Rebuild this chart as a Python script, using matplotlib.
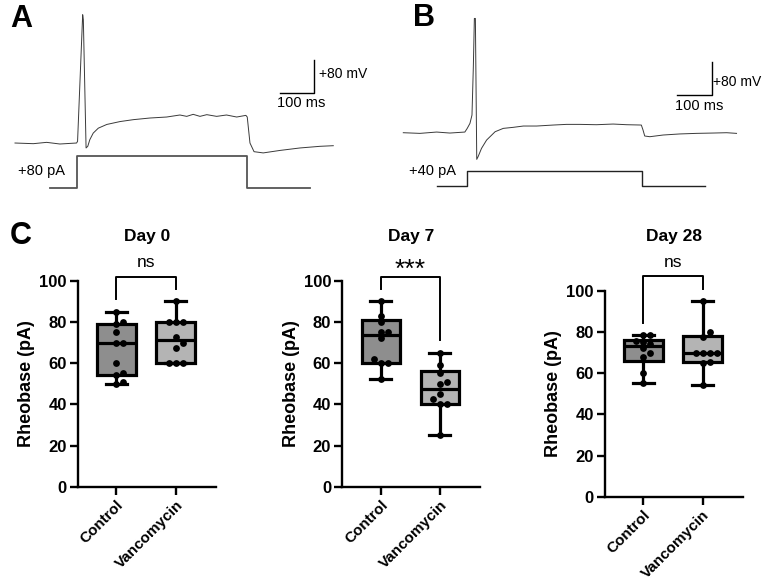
import numpy as np
import matplotlib.pyplot as plt

plt.rcParams['font.family'] = ['Liberation Sans', 'DejaVu Sans']

W, H = 764, 583

# ---- panel A: membrane potential (ms, mV) and injected current (ms, pA)
a_time = [0, 54, 93, 132, 181, 184, 199, 201, 209, 214, 220, 230, 245, 270, 309, 348,
          397, 446, 485, 505, 524, 544, 564, 593, 622, 652, 679, 683, 691, 703, 730,
          779, 838, 897, 936]
a_volt = [-65, -66.6, -63.4, -67.4, -65, -61, 246, 234, -77, -73, -57, -41, -29, -20,
          -13, -8.4, -4.4, -2, 2.9, -0.4, 4.5, -0.4, 3.7, -0.4, 2.9, -2, 2, -2, -65,
          -86, -89, -83, -77, -73, -71.5]
a_step_time = [103, 182, 681, 867]
a_step_amp = [0, 80, 0, 0]

# ---- panel B
b_time = [0, 49, 98, 137, 181, 188, 196, 202, 206, 209, 212, 216, 220, 230, 245, 270,
          294, 323, 353, 392, 441, 480, 519, 568, 617, 657, 700, 705, 710, 725, 764,
          813, 862, 911, 951, 980]
b_volt = [-65, -66.6, -63.4, -65.8, -63.4, -54.5, -42.4, -22.2, 95, 212, 212, -129.6,
          -123, -103, -82.8, -62.6, -54.5, -52, -48.8, -48.8, -46.4, -44.8, -44.8,
          -45.6, -44, -45.6, -46.4, -58.5, -73, -74.7, -70.6, -68, -66.6, -65.8, -65,
          -66.6]
b_step_time = [98, 186, 701, 887]
b_step_amp = [0, 40, 0, 0]

# ---- panel C: rheobase (pA)
groups = ['Control', 'Vancomycin']
days = ['Day 0', 'Day 7', 'Day 28']
day0_control = [50, 51, 54, 55, 60, 70, 70, 75, 79, 80, 85]
day0_vanco = [60, 60, 60, 67.5, 70, 72.5, 80, 80, 80, 90]
day7_control = [52.5, 60, 60, 62, 72, 75, 75, 80, 83, 90]
day7_vanco = [25, 40, 40, 42.5, 45, 50, 51, 55, 59, 65]
day28_control = [55, 60, 68, 70, 72, 74, 75, 75.5, 78.5, 78.5]
day28_vanco = [54, 65, 65.5, 70, 70, 70, 70, 77.5, 80, 95]
significance = ['ns', '***', 'ns']


def px_axes(fig, x0, y0, x1, y1):
    return fig.add_axes([x0 / W, 1 - y1 / H, (x1 - x0) / W, (y1 - y0) / H])


def swarm_x(values, center, px_x, px_y, d=6.0, step=7.0):
    placed = []
    order = np.argsort(values, kind='stable')
    out = np.zeros(len(values))
    for i in order:
        y = values[i] * px_y
        for k in range(0, 12):
            c = 0 if k == 0 else ((k + 1) // 2) * step * (1 if k % 2 else -1)
            if all((c - px) ** 2 + (y - py) ** 2 >= d ** 2 for px, py in placed):
                break
        placed.append((c, y))
        out[i] = center + c / px_x
    return out


def box_stats(vals):
    v = np.asarray(vals, float)
    q1, med, q3 = np.percentile(v, [25, 50, 75], method='weibull')
    return dict(med=med, q1=q1, q3=q3, whislo=v.min(), whishi=v.max(), fliers=[])


fig = plt.figure(figsize=(W / 100, H / 100), dpi=100)

# ---------------- traces
trace_font = 10.5
for (vt, vv, st, sa, box_v, box_i, xlim, ylim_v, ylim_i, bar, lbl_mv, lbl_ms, pa_lbl,
     step_col, step_lw) in [
    (a_time, a_volt, a_step_time, a_step_amp, (10, 5, 370, 195), (10, 140, 370, 200),
     (-14.7, 1044), (-191, 269.5), (-30, 120), (779, 879, 56.2), (893, 102), (841, 31),
     ('+80 pA', 79, 42.5), '#555555', 1.3),
    (b_time, b_volt, b_step_time, b_step_amp, (390, 5, 760, 195), (390, 140, 760, 200),
     (-39.1, 1049), (-216, 244.6), (-37.3, 122.7), (804, 907, 26.4), (912, 58.6),
     (870, -0.3), ('+40 pA', 86, 40.8), '#222222', 1.0),
]:
    axv = px_axes(fig, *box_v)
    axv.plot(vt, vv, color='#3a3a3a', lw=0.7)
    x0, x1, yb = bar
    axv.plot([x0, x1, x1], [yb, yb, yb + 80], color='black', lw=1.0)
    axv.text(lbl_mv[0], lbl_mv[1], '+80 mV', fontsize=10, ha='left', va='center')
    axv.text(lbl_ms[0], lbl_ms[1], '100 ms', fontsize=trace_font, ha='center', va='center')
    axv.set_xlim(xlim)
    axv.set_ylim(ylim_v)
    axv.axis('off')

    axi = px_axes(fig, *box_i)
    axi.plot(st, sa, drawstyle='steps-post', color=step_col, lw=step_lw)
    axi.text(pa_lbl[1], pa_lbl[2], pa_lbl[0], fontsize=10.5, ha='center', va='center')
    axi.set_xlim(xlim)
    axi.set_ylim(ylim_i)
    axi.axis('off')

# ---------------- box plots
panels = [
    (day0_control, day0_vanco, (78, 280.7, 216, 486.7), 102),
    (day7_control, day7_vanco, (342.3, 280.7, 480, 486.7), 102),
    (day28_control, day28_vanco, (605, 290.7, 742.7, 496.7), 107),
]
fills = ['#8e8e8e', '#b4b4b4']
lw = 2.3
for (ctrl, vanc, box, bracket_top), day, sig in zip(panels, days, significance):
    ax = px_axes(fig, *box)
    x0, y0, x1, y1 = box
    ax.set_xlim(-0.65, 1.68)
    ax.set_ylim(0, 100)
    px_x = (x1 - x0) / 2.33
    px_y = (y1 - y0) / 100
    data = [ctrl, vanc]
    for i, vals in enumerate(data):
        res = ax.bxp([box_stats(vals)], positions=[i], widths=0.65, patch_artist=True,
                     showfliers=False, capwidths=0.36,
                     boxprops=dict(facecolor=fills[i], edgecolor='black', linewidth=lw),
                     medianprops=dict(color='black', linewidth=lw),
                     whiskerprops=dict(color='black', linewidth=lw),
                     capprops=dict(color='black', linewidth=lw))
        for art in res['whiskers'] + res['caps'] + res['medians'] + res['boxes']:
            art.set_clip_on(False)
        xs = swarm_x(np.asarray(vals, float), i, px_x, px_y)
        ax.scatter(xs, vals, s=24, color='black', zorder=5, clip_on=False, linewidths=0)

    # significance bracket
    m0, m1 = max(ctrl) + 6, max(vanc) + 6
    ax.plot([0, 0, 1, 1], [m0, bracket_top, bracket_top, m1], color='black', lw=1.4,
            clip_on=False)
    if sig == 'ns':
        ax.annotate(sig, (0.5, bracket_top), xytext=(0, 7), textcoords='offset points',
                    ha='center', va='baseline', fontsize=12.5, annotation_clip=False)
    else:
        ax.annotate(sig, (0.5, bracket_top), xytext=(0, 0), textcoords='offset points',
                    ha='center', va='baseline', fontsize=19, annotation_clip=False)

    ax.set_title(day, fontsize=12.5, fontweight='bold', pad=(y0 - 241) * 0.72)
    ax.set_xticks([0, 1])
    ax.set_xticklabels(groups, rotation=45, ha='right', rotation_mode='anchor',
                       fontsize=11, fontweight='bold')
    ax.set_yticks(np.arange(0, 101, 20))
    ax.set_yticklabels([str(v) for v in range(0, 101, 20)], fontsize=12,
                       fontweight='bold')
    ax.set_ylabel('Rheobase (pA)', fontsize=13, fontweight='bold')
    ax.yaxis.set_label_coords(-0.31, 0.5)
    ax.tick_params(direction='out', length=6, width=1.7, pad=2)
    for s in ['top', 'right']:
        ax.spines[s].set_visible(False)
    for s in ['left', 'bottom']:
        ax.spines[s].set_linewidth(1.7)
    ax.patch.set_alpha(0)

# panel letters
for letter, (x, y) in zip('ABC', [(10, 4), (413, 3), (10, 221)]):
    fig.text(x / W, 1 - y / H, letter, fontsize=22, fontweight='bold', ha='left', va='top')

fig.savefig('out.png', dpi=100)
